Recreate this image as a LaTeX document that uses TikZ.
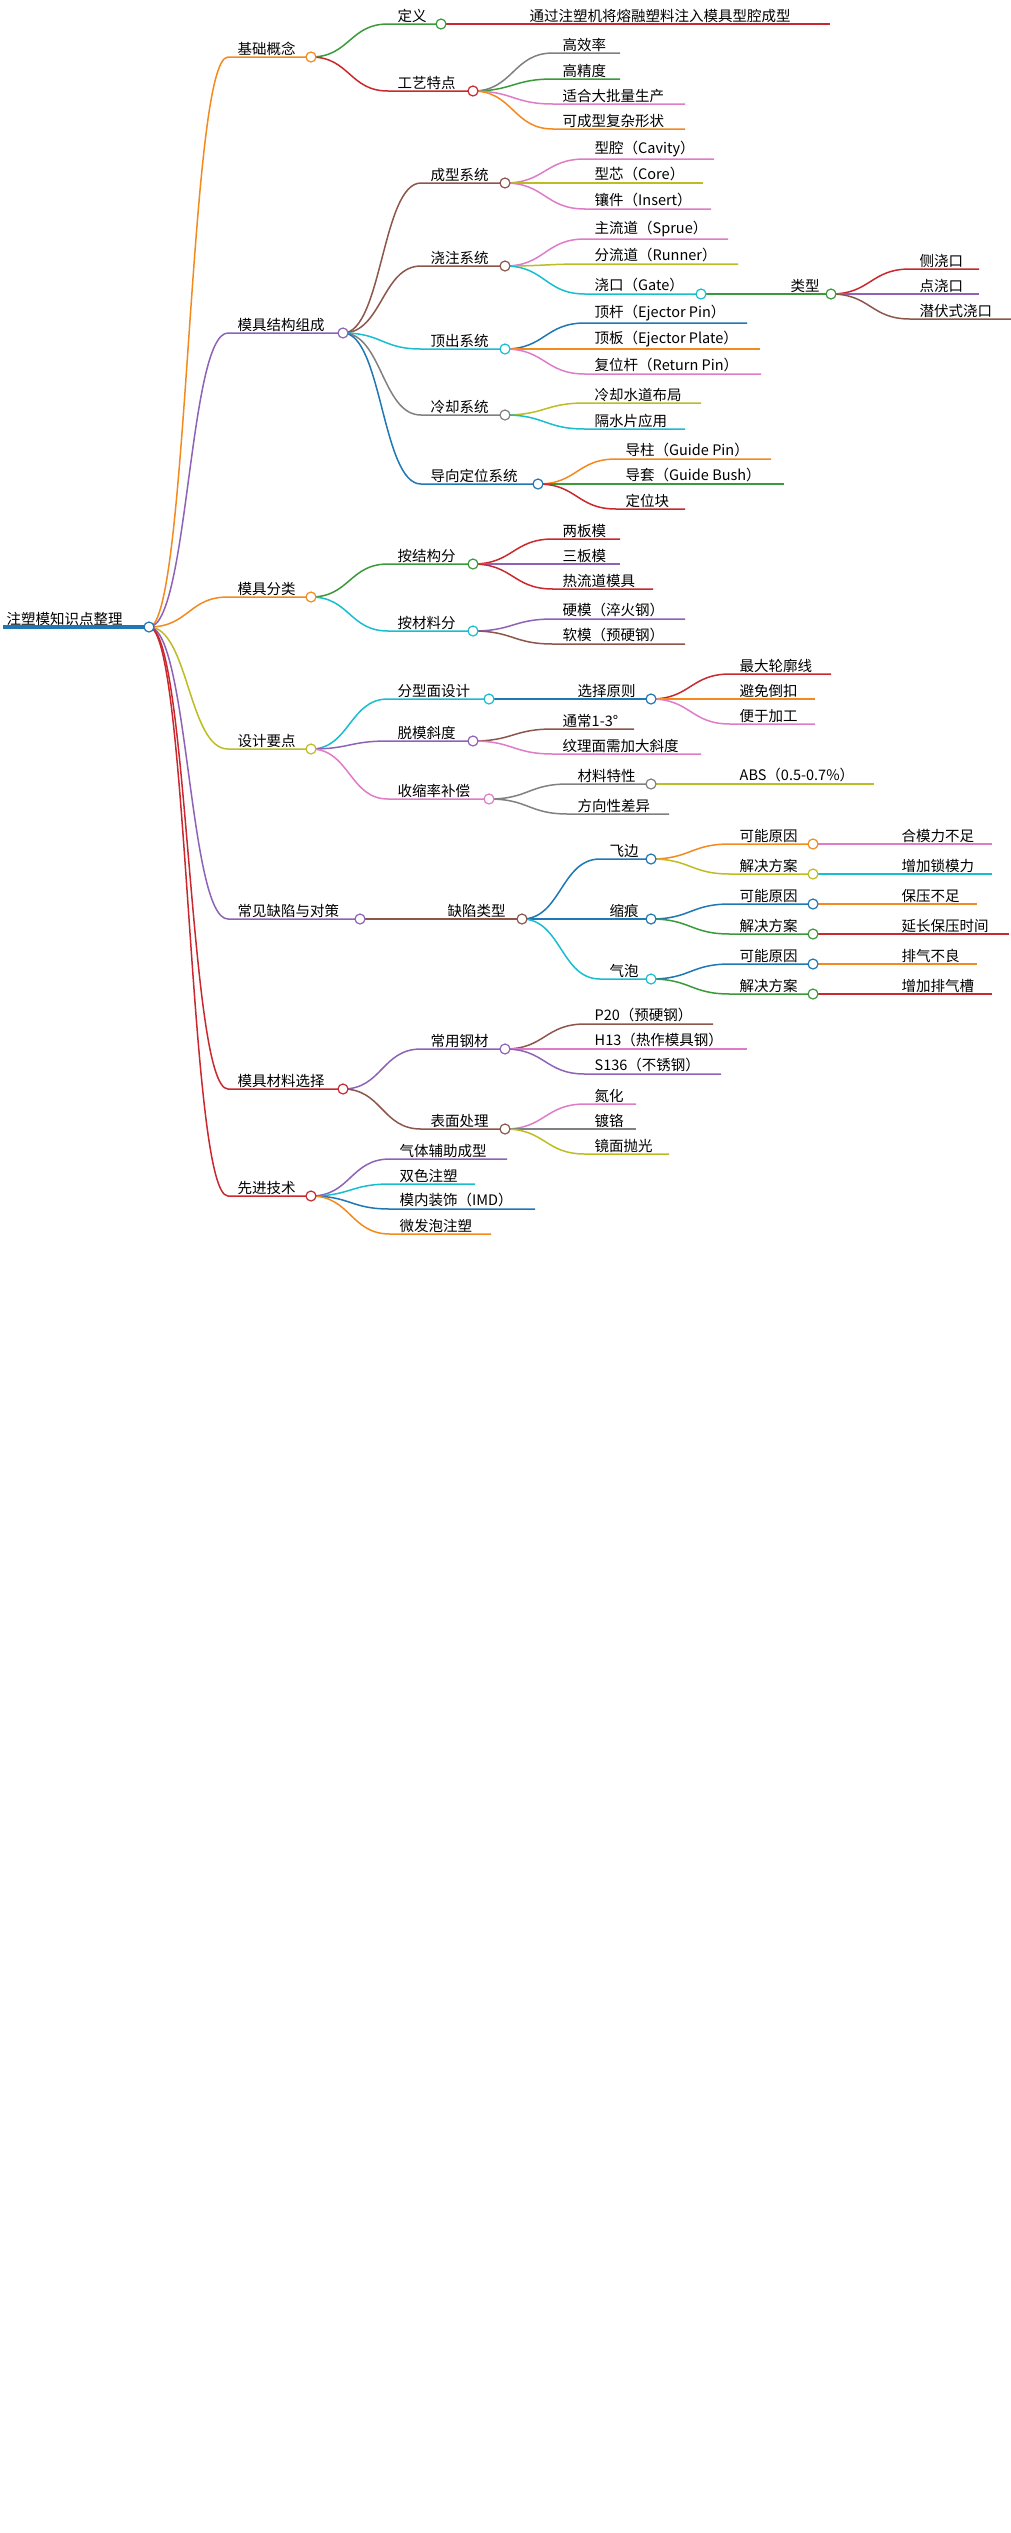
\documentclass[tikz,border=0pt]{standalone}
\usepackage{fontspec}
\setmainfont{Noto Sans CJK SC}
\usetikzlibrary{calc}
\pgfdeclarelayer{lines}
\pgfsetlayers{lines,main}
\definecolor{orange}{HTML}{F28A1E}
\definecolor{purple}{HTML}{8E63B7}
\definecolor{green}{HTML}{3A9A3A}
\definecolor{red}{HTML}{C8282E}
\definecolor{gray}{HTML}{808080}
\definecolor{pink}{HTML}{E07BC8}
\definecolor{olive}{HTML}{BCBD22}
\definecolor{cyan}{HTML}{17BECF}
\definecolor{blue}{HTML}{1F77B4}
\definecolor{brown}{HTML}{8C564B}
\tikzset{
  link/.style={line width=1.5pt},
  dot/.style={circle,draw=#1,fill=white,line width=1.2pt,minimum size=10pt,inner sep=0pt},
  label/.style={anchor=south west,inner sep=1.5pt,font=\fontsize{14.5}{17}\selectfont}
}
% parent, name, colour, start x, end x, y, text
\newcommand\twig[7]{%
  \coordinate (#2s) at (#4,#6);
  \coordinate (#2) at (#5,#6);
  \coordinate (#2m) at ($(#1)!0.5!(#2s)$);
  \begin{pgfonlayer}{lines}
    \draw[link,#3] (#1) .. controls (#2m |- #1) and (#2m |- #2s) .. (#2s) -- (#2);
  \end{pgfonlayer}
  \node[label] at ($(#2s)+(8,0)$) {#7};}
% same, with a knot at the end
\newcommand\knot[7]{\twig{#1}{#2}{#3}{#4}{#5}{#6}{#7}\node[dot=#3] at (#2) {};}
\begin{document}
\begin{tikzpicture}[x=1pt,y=-1pt]
  \useasboundingbox (0,0) rectangle (1011,2533);
  \coordinate (root) at (149,627);
  \begin{pgfonlayer}{lines}
    \draw[blue,line width=4pt] (3,627) -- (root);
  \end{pgfonlayer}
  \node[label] at (5,627) {注塑模知识点整理};
  \node[dot=blue] at (root) {};

  \knot{root}{jc}{orange}{228}{311}{57}{基础概念}
  \knot{jc}{dy}{green}{388}{441}{24}{定义}
  \twig{dy}{dya}{red}{520}{830}{24}{通过注塑机将熔融塑料注入模具型腔成型}
  \knot{jc}{gy}{red}{388}{473}{91}{工艺特点}
  \twig{gy}{gya}{gray}{553}{620}{53}{高效率}
  \twig{gy}{gyb}{green}{553}{620}{79}{高精度}
  \twig{gy}{gyc}{pink}{553}{685}{104}{适合大批量生产}
  \twig{gy}{gyd}{orange}{553}{685}{129}{可成型复杂形状}

  \knot{root}{mj}{purple}{228}{343}{333}{模具结构组成}
  \knot{mj}{cx}{brown}{421}{505}{183}{成型系统}
  \twig{cx}{cxa}{pink}{585}{714}{159}{型腔（Cavity）}
  \twig{cx}{cxb}{olive}{585}{703}{183}{型芯（Core）}
  \twig{cx}{cxc}{pink}{585}{711}{209}{镶件（Insert）}
  \knot{mj}{jz}{brown}{421}{505}{266}{浇注系统}
  \twig{jz}{jza}{pink}{585}{728}{239}{主流道（Sprue）}
  \twig{jz}{jzb}{olive}{585}{738}{264}{分流道（Runner）}
  \knot{jz}{jk}{cyan}{585}{701}{294}{浇口（Gate）}
  \knot{jk}{lx}{green}{781}{831}{294}{类型}
  \twig{lx}{lxa}{red}{910}{979}{269}{侧浇口}
  \twig{lx}{lxb}{purple}{910}{979}{294}{点浇口}
  \twig{lx}{lxc}{brown}{910}{1011}{319}{潜伏式浇口}
  \knot{mj}{dc}{cyan}{421}{505}{349}{顶出系统}
  \twig{dc}{dca}{blue}{585}{747}{323}{顶杆（Ejector Pin）}
  \twig{dc}{dcb}{orange}{585}{760}{349}{顶板（Ejector Plate）}
  \twig{dc}{dcc}{pink}{585}{761}{374}{复位杆（Return Pin）}
  \knot{mj}{lq}{gray}{421}{505}{415}{冷却系统}
  \twig{lq}{lqa}{olive}{585}{701}{403}{冷却水道布局}
  \twig{lq}{lqb}{cyan}{585}{685}{429}{隔水片应用}
  \knot{mj}{dx}{blue}{421}{538}{484}{导向定位系统}
  \twig{dx}{dxa}{orange}{616}{771}{459}{导柱（Guide Pin）}
  \twig{dx}{dxb}{green}{616}{784}{484}{导套（Guide Bush）}
  \twig{dx}{dxc}{red}{616}{685}{509}{定位块}

  \knot{root}{fl}{orange}{228}{311}{597}{模具分类}
  \knot{fl}{jg}{green}{388}{473}{564}{按结构分}
  \twig{jg}{jga}{red}{553}{620}{539}{两板模}
  \twig{jg}{jgb}{purple}{553}{620}{564}{三板模}
  \twig{jg}{jgc}{red}{553}{653}{589}{热流道模具}
  \knot{fl}{cl}{cyan}{388}{473}{631}{按材料分}
  \twig{cl}{cla}{purple}{553}{685}{619}{硬模（淬火钢）}
  \twig{cl}{clb}{brown}{553}{685}{644}{软模（预硬钢）}

  \knot{root}{sj}{olive}{228}{311}{749}{设计要点}
  \knot{sj}{fx}{cyan}{388}{489}{699}{分型面设计}
  \knot{fx}{xz}{blue}{568}{651}{699}{选择原则}
  \twig{xz}{xza}{red}{730}{831}{674}{最大轮廓线}
  \twig{xz}{xzb}{orange}{730}{815}{699}{避免倒扣}
  \twig{xz}{xzc}{pink}{730}{815}{724}{便于加工}
  \knot{sj}{tm}{purple}{388}{473}{741}{脱模斜度}
  \twig{tm}{tma}{brown}{553}{634}{729}{通常1-3°}
  \twig{tm}{tmb}{pink}{553}{701}{754}{纹理面需加大斜度}
  \knot{sj}{ss}{pink}{388}{489}{799}{收缩率补偿}
  \knot{ss}{tx}{gray}{568}{651}{784}{材料特性}
  \twig{tx}{txa}{olive}{730}{874}{784}{ABS（0.5-0.7\%）}
  \twig{ss}{ssb}{gray}{568}{669}{814}{方向性差异}

  \knot{root}{qx}{purple}{228}{360}{919}{常见缺陷与对策}
  \knot{qx}{lb}{brown}{438}{522}{919}{缺陷类型}
  \knot{lb}{fb}{blue}{600}{651}{859}{飞边}
  \knot{fb}{fby}{orange}{730}{813}{844}{可能原因}
  \twig{fby}{fbya}{pink}{892}{992}{844}{合模力不足}
  \knot{fb}{fbf}{olive}{730}{813}{874}{解决方案}
  \twig{fbf}{fbfa}{cyan}{892}{992}{874}{增加锁模力}
  \knot{lb}{sh}{blue}{600}{651}{919}{缩痕}
  \knot{sh}{shy}{blue}{730}{813}{904}{可能原因}
  \twig{shy}{shya}{orange}{892}{977}{904}{保压不足}
  \knot{sh}{shf}{green}{730}{813}{934}{解决方案}
  \twig{shf}{shfa}{red}{892}{1009}{934}{延长保压时间}
  \knot{lb}{qp}{cyan}{600}{651}{979}{气泡}
  \knot{qp}{qpy}{blue}{730}{813}{964}{可能原因}
  \twig{qpy}{qpya}{orange}{892}{977}{964}{排气不良}
  \knot{qp}{qpf}{green}{730}{813}{994}{解决方案}
  \twig{qpf}{qpfa}{red}{892}{992}{994}{增加排气槽}

  \knot{root}{cz}{red}{228}{343}{1089}{模具材料选择}
  \knot{cz}{gc}{purple}{421}{505}{1049}{常用钢材}
  \twig{gc}{gca}{brown}{585}{713}{1024}{P20（预硬钢）}
  \twig{gc}{gcb}{pink}{585}{747}{1049}{H13（热作模具钢）}
  \twig{gc}{gcc}{purple}{585}{721}{1074}{S136（不锈钢）}
  \knot{cz}{bm}{brown}{421}{505}{1129}{表面处理}
  \twig{bm}{bma}{pink}{585}{636}{1104}{氮化}
  \twig{bm}{bmb}{gray}{585}{636}{1129}{镀铬}
  \twig{bm}{bmc}{olive}{585}{669}{1154}{镜面抛光}

  \knot{root}{xj}{red}{228}{311}{1196}{先进技术}
  \twig{xj}{xja}{purple}{390}{507}{1159}{气体辅助成型}
  \twig{xj}{xjb}{cyan}{390}{475}{1184}{双色注塑}
  \twig{xj}{xjc}{blue}{390}{535}{1209}{模内装饰（IMD）}
  \twig{xj}{xjd}{orange}{390}{491}{1234}{微发泡注塑}
\end{tikzpicture}
\end{document}
